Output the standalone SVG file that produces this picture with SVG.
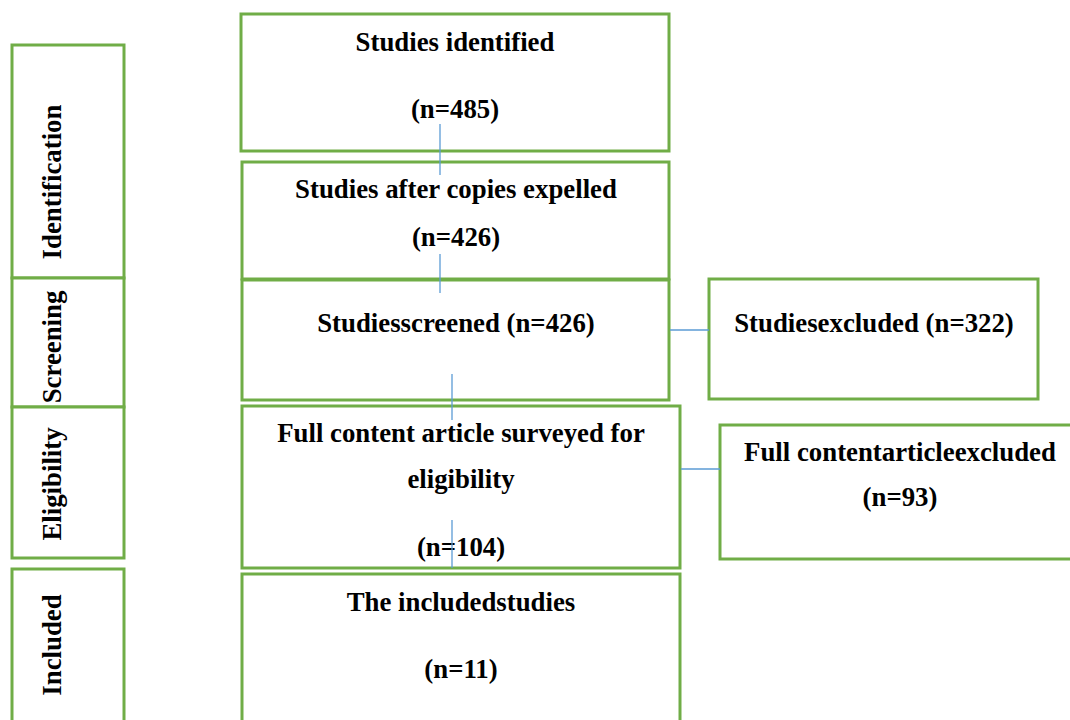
<svg xmlns="http://www.w3.org/2000/svg" width="1070" height="720" viewBox="0 0 1070 720">
<style>
.box{fill:#fff;stroke:#70ad47;stroke-width:3}
.t{font-family:"Liberation Serif","Times New Roman",serif;font-weight:bold;font-size:26.8px;fill:#000;text-anchor:middle}
.c{stroke:#5b9bd5;stroke-width:1.3;fill:none}
</style>
<rect width="1070" height="720" fill="#fff"/>
<g id="stage-identification"><rect class="box" x="12" y="45" width="112" height="233"/><text class="t" transform="translate(61,182) rotate(-90)">Identification</text></g>
<g id="stage-screening"><rect class="box" x="12" y="278" width="112" height="129"/><text class="t" transform="translate(61,347) rotate(-90)">Screening</text></g>
<g id="stage-eligibility"><rect class="box" x="12" y="407" width="112" height="151"/><text class="t" transform="translate(61,484) rotate(-90)">Eligibility</text></g>
<g id="stage-included"><rect class="box" x="12" y="569" width="112" height="160"/><text class="t" transform="translate(61,645) rotate(-90)">Included</text></g>
<g id="n-identified"><rect class="box" x="241" y="14" width="428" height="137"/><text class="t" x="455" y="51">Studies identified</text><text class="t" x="455" y="118">(n=485)</text></g>
<g id="n-copies"><rect class="box" x="242" y="162" width="427" height="117"/><text class="t" x="456" y="198">Studies after copies expelled</text><text class="t" x="456" y="246">(n=426)</text></g>
<g id="n-screened"><rect class="box" x="242" y="280" width="427" height="120"/><text class="t" x="456" y="332">Studiesscreened (n=426)</text></g>
<g id="n-excluded"><rect class="box" x="709" y="279" width="329" height="120"/><text class="t" x="874" y="332">Studiesexcluded (n=322)</text></g>
<g id="n-fulltext"><rect class="box" x="242" y="406" width="438" height="162"/><text class="t" x="461" y="442">Full content article surveyed for</text><text class="t" x="461" y="488">eligibility</text><text class="t" x="461" y="556">(n=104)</text></g>
<g id="n-fulltext-excluded"><rect class="box" x="720" y="425" width="362" height="134"/><text class="t" x="900" y="461">Full contentarticleexcluded</text><text class="t" x="900" y="506">(n=93)</text></g>
<g id="n-included"><rect class="box" x="242" y="574" width="438" height="160"/><text class="t" x="461" y="611">The includedstudies</text><text class="t" x="461" y="678">(n=11)</text></g>
<g id="connectors">
<line class="c" x1="440" y1="124" x2="440" y2="175"/>
<line class="c" x1="440" y1="254" x2="440" y2="293"/>
<line class="c" x1="452" y1="374" x2="452" y2="420"/>
<line class="c" x1="452" y1="520" x2="452" y2="568"/>
<line class="c" x1="670" y1="330" x2="709" y2="330"/>
<line class="c" x1="681" y1="469" x2="720" y2="469"/>
</g>
</svg>
